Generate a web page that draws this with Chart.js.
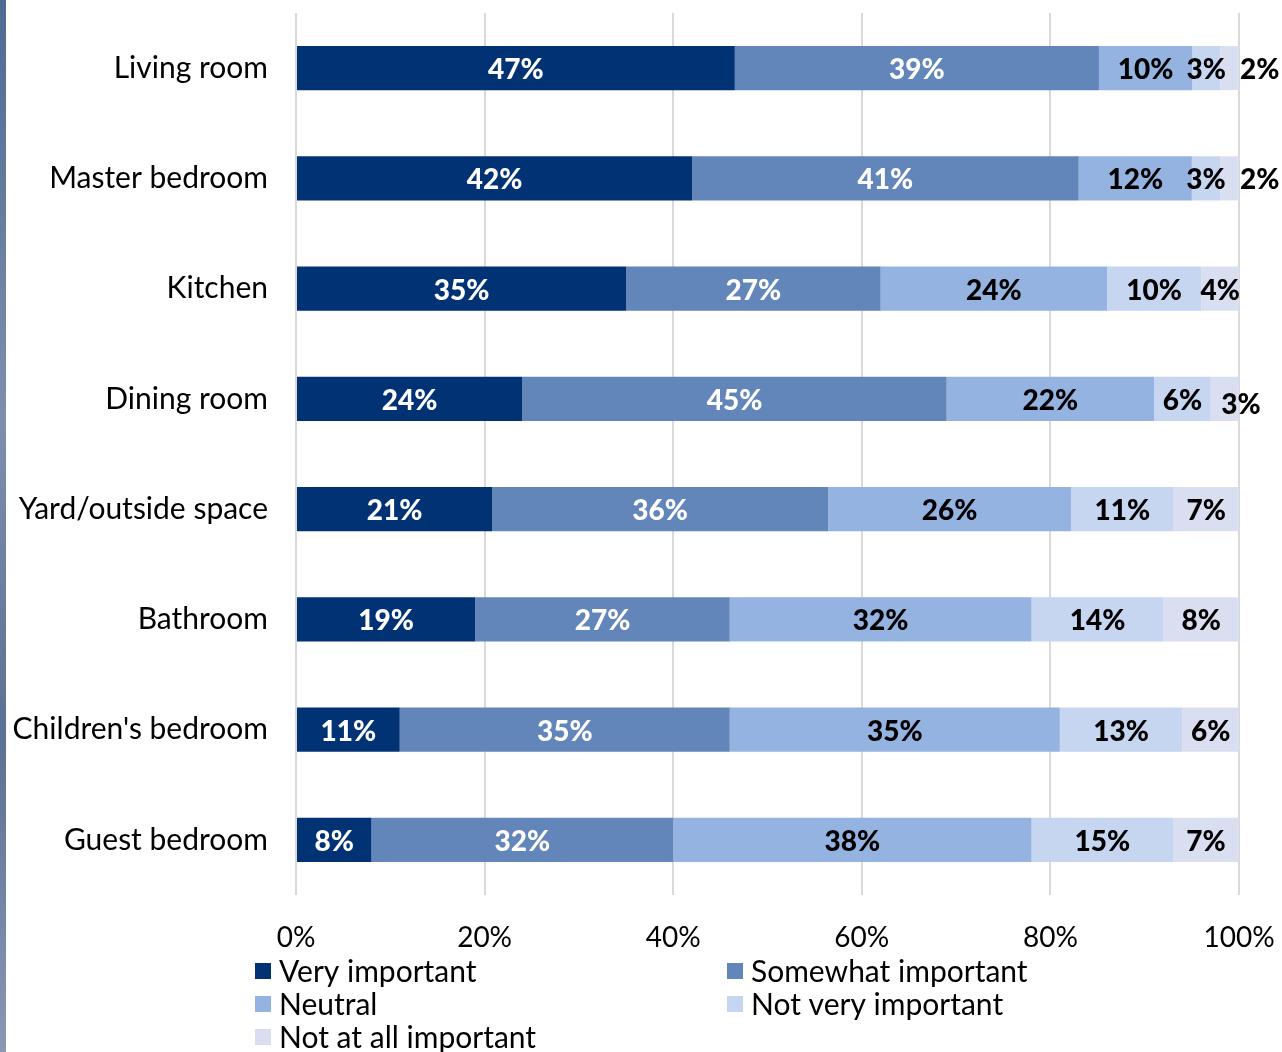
<!DOCTYPE html>
<html>
<head>
<meta charset="utf-8">
<script src="https://cdn.jsdelivr.net/npm/chart.js@4"></script>
<style>
  html, body { margin: 0; padding: 0; background: #fff; }
  #wrap { position: relative; width: 1282px; height: 1052px; }
  #strip { position: absolute; left: 0; top: 0; width: 6px; height: 1052px;
           background: linear-gradient(#4f6a93, #7d8fae 40%, #5b7096 70%, #8a98b3); }
  canvas { position: absolute; left: 0; top: 0; }
</style>
</head>
<body>
<div id="wrap">
  <div id="strip"></div>
  <canvas id="chart" width="1282" height="1052"></canvas>
</div>
<script>
// rooms, top to bottom
var rooms = ['Living room', 'Master bedroom', 'Kitchen', 'Dining room',
             'Yard/outside space', 'Bathroom', "Children's bedroom", 'Guest bedroom'];

var seriesNames = ['Very important', 'Somewhat important', 'Neutral',
                   'Not very important', 'Not at all important'];

// percentages as printed on the bars
var veryImportant     = [47, 42, 35, 24, 21, 19, 11, 8];
var somewhatImportant = [39, 41, 27, 45, 36, 27, 35, 32];
var neutral           = [10, 12, 24, 22, 26, 32, 35, 38];
var notVeryImportant  = [3, 3, 10, 6, 11, 14, 13, 15];
var notAtAllImportant = [2, 2, 4, 3, 7, 8, 6, 7];

var xTicks = [0, 20, 40, 60, 80, 100];

var colors = ['#003274', '#6285ba', '#95b3e1', '#c6d5f0', '#d9dff0'];
var labelColors = ['#ffffff', '#ffffff', '#000000', '#000000', '#000000'];

var allSeries = [veryImportant, somewhatImportant, neutral, notVeryImportant, notAtAllImportant];

// 100% stacked: each row is scaled to its own total (like the spreadsheet did)
var rowTotals = rooms.map(function(r, i) {
    var t = 0;
    allSeries.forEach(function(s) { t += s[i]; });
    return t;
});

var FONT = 'Lato, "Noto Sans", sans-serif';

var datasets = allSeries.map(function(s, k) {
    return {
        label: seriesNames[k],
        raw: s,
        data: s.map(function(v, i) { return v / rowTotals[i] * 100; }),
        backgroundColor: colors[k],
        borderWidth: 0,
        barPercentage: 0.4,
        categoryPercentage: 1.0
    };
});

var barLabels = {
    id: 'barLabels',
    afterDatasetsDraw: function(chart) {
        var ctx = chart.ctx;
        ctx.save();
        ctx.font = '900 28px ' + FONT;
        ctx.textBaseline = 'middle';
        chart.data.datasets.forEach(function(ds, k) {
            var meta = chart.getDatasetMeta(k);
            meta.data.forEach(function(bar, i) {
                var v = ds.raw[i];
                var txt = v + '%';
                ctx.fillStyle = labelColors[k];
                var last = k === chart.data.datasets.length - 1;
                if (last && v < 3) {
                    // too thin to hold its label: put it just past the bar end
                    ctx.textAlign = 'left';
                    ctx.fillText(txt, bar.x + 1, bar.y + 2);
                } else if (last && v < 4) {
                    ctx.textAlign = 'center';
                    ctx.fillText(txt, bar.x + 2, bar.y + 6);
                } else {
                    ctx.textAlign = 'center';
                    ctx.fillText(txt, (bar.x + bar.base) / 2, bar.y + 2);
                }
            });
        });
        ctx.restore();
    }
};

// two-column legend under the axis
var legendBoxes = {
    id: 'legendBoxes',
    afterDraw: function(chart) {
        var ctx = chart.ctx;
        ctx.save();
        ctx.font = '30px ' + FONT;
        ctx.textBaseline = 'middle';
        ctx.textAlign = 'left';
        var colX = [255, 727];
        var rowY = [971, 1004, 1037];
        seriesNames.forEach(function(name, k) {
            var x = colX[k % 2];
            var y = rowY[Math.floor(k / 2)];
            ctx.fillStyle = colors[k];
            ctx.fillRect(x, y - 8, 16, 16);
            ctx.fillStyle = '#000';
            ctx.fillText(name, x + 24, y + 1);
        });
        ctx.restore();
    }
};

function noPad(scale) {
    scale.paddingTop = 0;
    scale.paddingBottom = 0;
    scale.paddingLeft = 0;
    scale.paddingRight = 0;
}

new Chart(document.getElementById('chart'), {
    type: 'bar',
    data: { labels: rooms, datasets: datasets },
    plugins: [barLabels, legendBoxes],
    options: {
        indexAxis: 'y',
        responsive: false,
        animation: false,
        layout: { padding: { top: 13, right: 43, left: 0, bottom: 0 } },
        plugins: {
            legend: { display: false },
            tooltip: { enabled: false }
        },
        scales: {
            x: {
                stacked: true,
                min: 0,
                max: 100,
                afterBuildTicks: function(scale) {
                    scale.ticks = xTicks.map(function(v) { return { value: v }; });
                },
                afterFit: function(scale) { scale.height = 157; noPad(scale); },
                grid: { color: '#d9d9d9', lineWidth: 2, drawTicks: false },
                border: { display: false },
                ticks: {
                    padding: 26,
                    color: '#000',
                    font: { family: FONT, size: 28 },
                    callback: function(v) { return v + '%'; }
                }
            },
            y: {
                stacked: true,
                afterFit: function(scale) { scale.width = 296; noPad(scale); },
                grid: { display: false, drawTicks: false },
                border: { display: false },
                ticks: {
                    padding: 28,
                    color: '#000',
                    font: { family: FONT, size: 30 }
                }
            }
        }
    }
});
</script>
</body>
</html>
